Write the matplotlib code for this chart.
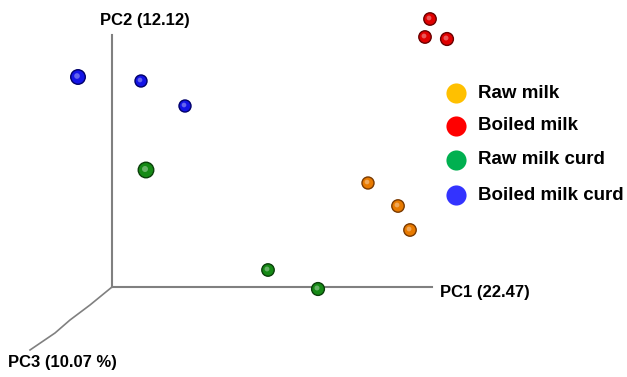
import matplotlib.pyplot as plt

# Projected screen positions of the 3D PCoA plot (pixels, y grows downward)
groups = ["Raw milk", "Boiled milk", "Raw milk curd", "Boiled milk curd"]
legend_colors = ["#FFC000", "#FF0000", "#00B050", "#3333FF"]
point_colors = ["#E87A00", "#E00000", "#168A16", "#1414E6"]
edge_colors = ["#7A3A00", "#6A0000", "#0A400A", "#00006A"]

raw_milk_x = [368, 398, 410]
raw_milk_y = [183, 206, 230]
raw_milk_s = [75, 80, 80]

boiled_milk_x = [430, 425, 447]
boiled_milk_y = [19, 37, 39]
boiled_milk_s = [80, 80, 85]

raw_curd_x = [146, 268, 318]
raw_curd_y = [170, 270, 289]
raw_curd_s = [125, 80, 85]

boiled_curd_x = [78, 141, 185]
boiled_curd_y = [77, 81, 106]
boiled_curd_s = [110, 75, 75]

origin = (112, 287)
pc1_end = (432, 287)
pc2_end = (112, 35)
pc3_path_x = [112, 90, 70, 55, 30]
pc3_path_y = [287, 305, 320, 333, 350]

axis_labels = ["PC1 (22.47)", "PC2 (12.12)", "PC3 (10.07 %)"]

fig = plt.figure(figsize=(6.27, 3.77), dpi=100)
ax = fig.add_axes([0, 0, 1, 1])
ax.set_xlim(0, 627)
ax.set_ylim(377, 0)
ax.axis("off")

gray = "#808080"
ax.plot([origin[0], pc1_end[0]], [origin[1], pc1_end[1]], color=gray, lw=1.5, zorder=1)
ax.plot([origin[0], pc2_end[0]], [origin[1], pc2_end[1]], color=gray, lw=1.5, zorder=1)
ax.plot(pc3_path_x, pc3_path_y, color=gray, lw=1.2, zorder=1)

font = {"family": "Liberation Sans", "weight": "bold", "color": "black"}
ax.text(440, 292, axis_labels[0], fontsize=12, va="center", ha="left", **font)
ax.text(145, 21, axis_labels[1], fontsize=12, va="center", ha="center", **font)
ax.text(8, 362, axis_labels[2], fontsize=12, va="center", ha="left", **font)

series = [
    (raw_milk_x, raw_milk_y, raw_milk_s),
    (boiled_milk_x, boiled_milk_y, boiled_milk_s),
    (raw_curd_x, raw_curd_y, raw_curd_s),
    (boiled_curd_x, boiled_curd_y, boiled_curd_s),
]
for (xs, ys, ss), c, ec in zip(series, point_colors, edge_colors):
    ax.scatter(xs, ys, s=ss, color=c, edgecolors=ec, linewidths=1.0, zorder=3)
    # small highlight to suggest the sphere shading
    ax.scatter([x - 1 for x in xs], [y - 1 for y in ys], s=[v * 0.15 for v in ss],
               color="white", alpha=0.35, linewidths=0, zorder=4)

# legend
leg_y = [93, 126, 160, 195]
for lbl, c, yy in zip(groups, legend_colors, leg_y):
    ax.scatter([456], [yy], s=210, color=c, linewidths=0, zorder=3)
    ax.text(478, yy, lbl, fontsize=13.5, va="center", ha="left", **font)

plt.savefig("out.png", dpi=100)
plt.close()
